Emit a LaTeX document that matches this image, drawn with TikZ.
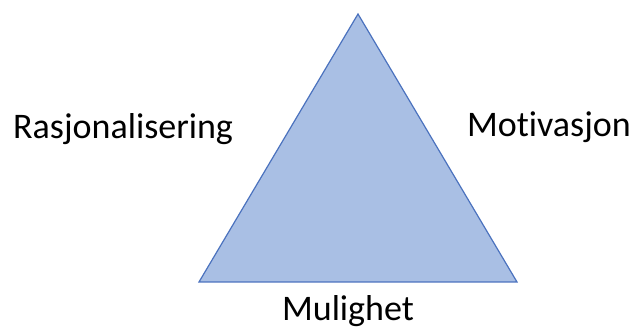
\documentclass[tikz,border=0pt]{standalone}
\usepackage{fontspec}
\setmainfont{Carlito}[Ligatures=NoCommon]
\definecolor{trifill}{RGB}{169,191,228}
\definecolor{triline}{RGB}{75,114,190}
\begin{document}
\begin{tikzpicture}[x=1pt,y=1pt,
  lbl/.style={font=\fontsize{36}{42}\selectfont, text=black, inner sep=0pt, anchor=base}]
\useasboundingbox (0,0) rectangle (633,329);
\coordinate (top) at (358,315);
\coordinate (bl) at (199,47);
\coordinate (br) at (517,47);
\draw[triline, fill=trifill, line width=1.2pt, line join=miter] (top) -- (br) -- (bl) -- cycle;
\node[lbl, anchor=base west] (rasj) at (13,190) {Rasjonalisering};
\node[lbl, anchor=base east] (moti) at (631,192) {Motivasjon};
\node[lbl] (mul) at (348,8.5) {Mulighet};
\end{tikzpicture}
\end{document}
